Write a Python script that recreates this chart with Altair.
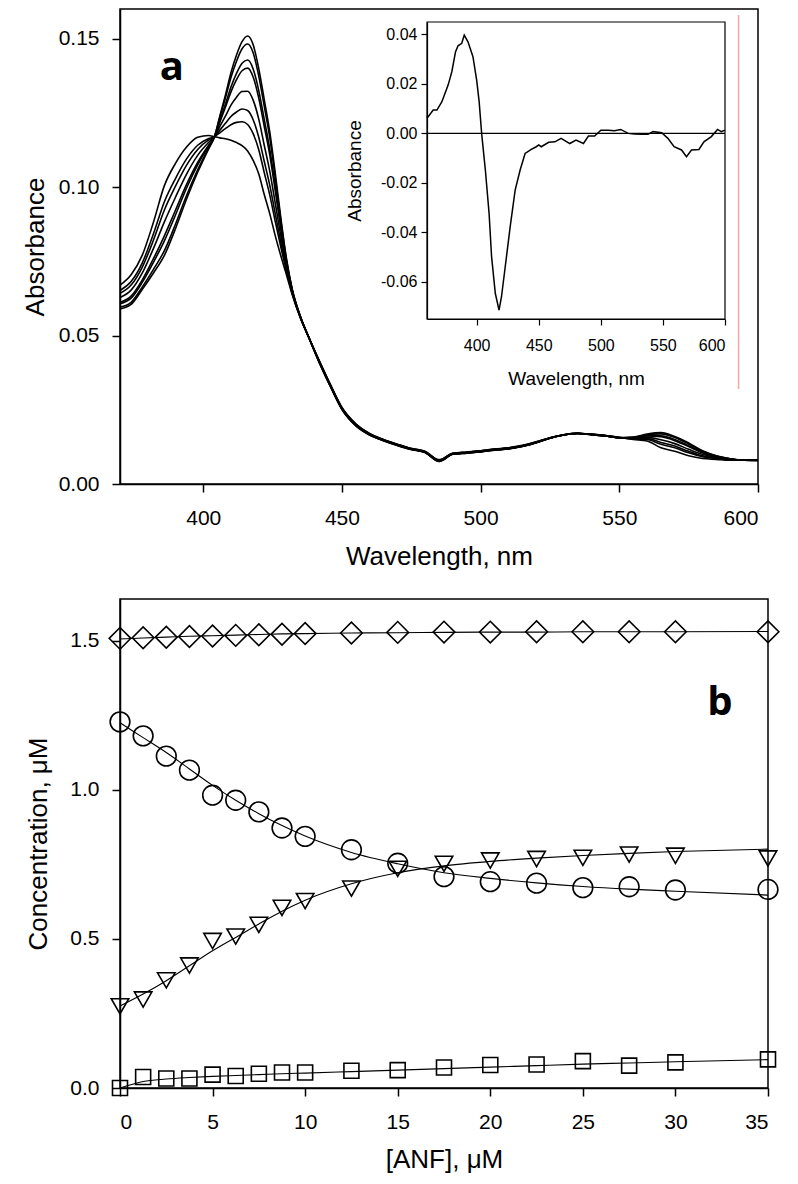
import altair as alt
import pandas as pd

# ---------------- Panel a : absorbance spectra ----------------
WAVELENGTH = [370, 374, 378, 382, 386, 390, 394, 398, 402, 404, 406, 408, 410, 412, 414,
              416, 418, 420, 422, 424, 426, 428, 430, 432, 435, 438, 442, 446, 450, 455,
              460, 465, 470, 475, 480, 485, 490, 495, 500, 505, 510, 515, 520, 525, 530,
              535, 540, 545, 550, 555, 560, 565, 570, 575, 580, 585, 590, 595, 600]

SPEC_0 = [0.0670, 0.0705, 0.0770, 0.0880, 0.1005, 0.1080, 0.1135, 0.1168, 0.1174, 0.1170, 0.1166, 0.1163, 0.1158, 0.1150, 0.1140,
          0.1122, 0.1090, 0.1045, 0.0975, 0.0910, 0.0835, 0.0768, 0.0705, 0.0640, 0.0560, 0.0495,
          0.0412, 0.0332, 0.0258, 0.0203, 0.0170, 0.0150, 0.0134, 0.0120, 0.0110, 0.0082, 0.0104, 0.0108, 0.0112, 0.0118,
          0.0122, 0.0130, 0.0142, 0.0156, 0.0166, 0.0171, 0.0168, 0.0163, 0.0157,
          0.0150, 0.0145, 0.0122, 0.0110, 0.0095, 0.0086, 0.0083, 0.0080, 0.0080, 0.0079]
SPEC_1 = [0.0652, 0.0682, 0.0744, 0.0841, 0.0951, 0.1029, 0.1095, 0.1141, 0.1164, 0.1170, 0.1183, 0.1197, 0.1210, 0.1218, 0.1220,
          0.1211, 0.1180, 0.1127, 0.1049, 0.0973, 0.0883, 0.0797, 0.0718, 0.0645, 0.0561, 0.0495,
          0.0411, 0.0331, 0.0257, 0.0202, 0.0169, 0.0149, 0.0133, 0.0119, 0.0109, 0.0081, 0.0103, 0.0107, 0.0111, 0.0117,
          0.0121, 0.0129, 0.0141, 0.0156, 0.0166, 0.0171, 0.0167, 0.0163, 0.0157,
          0.0152, 0.0150, 0.0134, 0.0122, 0.0105, 0.0092, 0.0086, 0.0081, 0.0080, 0.0079]
SPEC_2 = [0.0642, 0.0670, 0.0730, 0.0820, 0.0923, 0.1003, 0.1074, 0.1127, 0.1159, 0.1169, 0.1192, 0.1215, 0.1238, 0.1253, 0.1263,
          0.1258, 0.1227, 0.1169, 0.1087, 0.1006, 0.0909, 0.0813, 0.0724, 0.0647, 0.0562, 0.0495,
          0.0410, 0.0330, 0.0256, 0.0201, 0.0168, 0.0149, 0.0133, 0.0119, 0.0109, 0.0080, 0.0103, 0.0107, 0.0111, 0.0117,
          0.0121, 0.0129, 0.0141, 0.0155, 0.0166, 0.0171, 0.0167, 0.0163, 0.0156,
          0.0153, 0.0153, 0.0140, 0.0128, 0.0110, 0.0095, 0.0087, 0.0082, 0.0080, 0.0079]
SPEC_3 = [0.0628, 0.0653, 0.0710, 0.0792, 0.0883, 0.0966, 0.1044, 0.1107, 0.1151, 0.1169, 0.1205, 0.1239, 0.1276, 0.1303, 0.1322,
          0.1323, 0.1293, 0.1230, 0.1141, 0.1053, 0.0944, 0.0834, 0.0734, 0.0650, 0.0563, 0.0495,
          0.0409, 0.0329, 0.0255, 0.0200, 0.0168, 0.0148, 0.0132, 0.0118, 0.0108, 0.0079, 0.0102, 0.0106, 0.0110, 0.0116,
          0.0120, 0.0128, 0.0140, 0.0155, 0.0165, 0.0170, 0.0167, 0.0162, 0.0156,
          0.0154, 0.0157, 0.0149, 0.0136, 0.0117, 0.0100, 0.0089, 0.0083, 0.0080, 0.0080]
SPEC_4 = [0.0612, 0.0633, 0.0687, 0.0758, 0.0836, 0.0922, 0.1009, 0.1083, 0.1142, 0.1168, 0.1219, 0.1269, 0.1321, 0.1362, 0.1392,
          0.1401, 0.1371, 0.1301, 0.1205, 0.1108, 0.0986, 0.0859, 0.0745, 0.0654, 0.0564, 0.0495,
          0.0408, 0.0328, 0.0254, 0.0199, 0.0167, 0.0147, 0.0131, 0.0117, 0.0107, 0.0078, 0.0101, 0.0105, 0.0109, 0.0115,
          0.0119, 0.0127, 0.0140, 0.0155, 0.0165, 0.0170, 0.0167, 0.0162, 0.0156,
          0.0156, 0.0162, 0.0159, 0.0146, 0.0126, 0.0105, 0.0092, 0.0084, 0.0080, 0.0080]
SPEC_5 = [0.0607, 0.0626, 0.0679, 0.0746, 0.0819, 0.0906, 0.0997, 0.1075, 0.1139, 0.1168, 0.1225, 0.1279, 0.1337, 0.1383, 0.1417,
          0.1428, 0.1398, 0.1326, 0.1228, 0.1127, 0.1001, 0.0868, 0.0749, 0.0656, 0.0564, 0.0495,
          0.0407, 0.0327, 0.0253, 0.0198, 0.0166, 0.0147, 0.0131, 0.0117, 0.0107, 0.0077, 0.0101, 0.0105, 0.0109, 0.0115,
          0.0119, 0.0127, 0.0139, 0.0154, 0.0165, 0.0170, 0.0166, 0.0162, 0.0156,
          0.0156, 0.0163, 0.0162, 0.0150, 0.0129, 0.0107, 0.0092, 0.0084, 0.0080, 0.0080]
SPEC_6 = [0.0596, 0.0612, 0.0663, 0.0722, 0.0786, 0.0875, 0.0972, 0.1058, 0.1133, 0.1168, 0.1235, 0.1300, 0.1369, 0.1424, 0.1466,
          0.1482, 0.1453, 0.1375, 0.1273, 0.1166, 0.1030, 0.0886, 0.0756, 0.0659, 0.0565, 0.0495,
          0.0406, 0.0326, 0.0252, 0.0197, 0.0165, 0.0146, 0.0130, 0.0116, 0.0106, 0.0076, 0.0100, 0.0104, 0.0108, 0.0114,
          0.0118, 0.0126, 0.0139, 0.0154, 0.0165, 0.0170, 0.0166, 0.0162, 0.0156,
          0.0157, 0.0166, 0.0169, 0.0157, 0.0135, 0.0110, 0.0094, 0.0085, 0.0080, 0.0080]
SPEC_7 = [0.0590, 0.0605, 0.0655, 0.0710, 0.0770, 0.0860, 0.0960, 0.1050, 0.1130, 0.1168, 0.1240, 0.1310, 0.1385, 0.1445, 0.1490,
          0.1509, 0.1480, 0.1400, 0.1295, 0.1185, 0.1045, 0.0895, 0.0760, 0.0660, 0.0565, 0.0495,
          0.0405, 0.0325, 0.0251, 0.0196, 0.0165, 0.0146, 0.0130, 0.0116, 0.0106, 0.0076, 0.0100, 0.0104, 0.0108, 0.0114,
          0.0118, 0.0126, 0.0139, 0.0154, 0.0165, 0.0170, 0.0166, 0.0162, 0.0156,
          0.0158, 0.0168, 0.0173, 0.0160, 0.0138, 0.0112, 0.0095, 0.0085, 0.0080, 0.0080]
SPECTRA = [SPEC_0, SPEC_1, SPEC_2, SPEC_3, SPEC_4, SPEC_5, SPEC_6, SPEC_7]

MAIN_X_DOMAIN = [370, 600]
MAIN_Y_DOMAIN = [0, 0.16]
MAIN_X_TICKS = [400, 450, 500, 550, 600]
MAIN_Y_TICKS = [0.0, 0.05, 0.10, 0.15]

# inset: difference spectrum
INSET_WL = [360, 365, 368, 372, 377, 380, 383, 385, 388, 390, 393, 397, 400, 402, 404, 407, 410, 412, 415, 418,
            420, 423, 427, 431, 435, 439, 444, 448, 450, 452, 458, 463, 468, 475, 480, 486, 490, 495, 500, 506,
            511, 516, 522, 527, 533, 538, 542, 549, 554, 559, 565, 569, 573, 579, 583, 589, 594, 597, 600]
INSET_VAL = [0.0061, 0.0094, 0.0094, 0.0128, 0.0195, 0.0249, 0.0330, 0.0354, 0.0364, 0.0397,
             0.0370, 0.0310, 0.0215, 0.0128, 0.0000, -0.0148, -0.0323, -0.0497, -0.0646, -0.0714,
             -0.0660, -0.0539, -0.0377, -0.0229, -0.0148, -0.0081, -0.0065, -0.0054, -0.0047, -0.0054,
             -0.0036, -0.0034, -0.0020, -0.0041, -0.0027, -0.0041, -0.0011, -0.0011, 0.0013, 0.0013,
             0.0011, 0.0016, 0.0000, -0.0003, -0.0004, -0.0004, 0.0007, 0.0003, -0.0020, -0.0054,
             -0.0067, -0.0094, -0.0067, -0.0065, -0.0034, -0.0013, 0.0016, 0.0007, 0.0013]
INSET_X_DOMAIN = [360, 600]
INSET_Y_DOMAIN = [-0.075, 0.045]
INSET_X_TICKS = [400, 450, 500, 550, 600]
INSET_Y_TICKS = [-0.06, -0.04, -0.02, 0.0, 0.02, 0.04]

# annotations for panel a
LABEL_A = {"wl": [388.7], "abs": [0.140], "text": ["a"]}
RED_LINE = {"wl": [593.0], "abs": [0.032], "abs2": [0.158]}

# ---------------- Panel b : concentrations ----------------
ANF = [0, 1.25, 2.5, 3.75, 5, 6.25, 7.5, 8.75, 10, 12.5, 15, 17.5, 20, 22.5, 25, 27.5, 30, 35]
DIAMOND = [1.508, 1.510, 1.512, 1.514, 1.516, 1.518, 1.520, 1.522, 1.524, 1.526, 1.528, 1.529, 1.529, 1.530, 1.530, 1.530, 1.530, 1.530]
CIRCLE = [1.228, 1.181, 1.113, 1.066, 0.982, 0.965, 0.926, 0.872, 0.844, 0.799, 0.754, 0.709, 0.692, 0.687, 0.672, 0.675, 0.664, 0.666]
TRIANGLE = [0.274, 0.297, 0.361, 0.411, 0.493, 0.508, 0.547, 0.604, 0.627, 0.669, 0.735, 0.752, 0.763, 0.768, 0.772, 0.783, 0.779, 0.770]
SQUARE = [0.000, 0.037, 0.032, 0.032, 0.045, 0.040, 0.048, 0.052, 0.052, 0.058, 0.060, 0.069, 0.077, 0.079, 0.090, 0.075, 0.086, 0.096]

FIT_DIAMOND = [1.506, 1.509, 1.512, 1.515, 1.517, 1.519, 1.521, 1.523, 1.524, 1.526, 1.527, 1.528, 1.529, 1.529, 1.530, 1.530, 1.530, 1.531]
FIT_CIRCLE = [1.225, 1.175, 1.125, 1.070, 1.015, 0.965, 0.920, 0.880, 0.845, 0.790, 0.752, 0.722, 0.703, 0.688, 0.676, 0.667, 0.660, 0.647]
FIT_TRIANGLE = [0.275, 0.315, 0.360, 0.410, 0.460, 0.505, 0.550, 0.593, 0.630, 0.685, 0.722, 0.745, 0.760, 0.771, 0.780, 0.787, 0.793, 0.801]
FIT_SQUARE = [0.000, 0.022, 0.030, 0.035, 0.039, 0.042, 0.045, 0.048, 0.050, 0.055, 0.060, 0.065, 0.070, 0.075, 0.080, 0.084, 0.088, 0.095]

SERIES = ["diamond", "circle", "triangle", "square"]
SHAPES = ["diamond", "circle", "triangle-down", "square"]
SIZES = [470, 225, 400, 215]

B_X_DOMAIN = [0, 35]
B_Y_DOMAIN = [0, 1.64]
B_X_TICKS = [0, 5, 10, 15, 20, 25, 30, 35]
B_Y_TICKS = [0.0, 0.5, 1.0, 1.5]
LABEL_B = {"anf": [32.4], "val": [1.29], "text": ["b"]}

# ---------------- fonts ----------------
FONT = "'Liberation Sans', Arial, sans-serif"
BOLD = "'Open Sans', 'DejaVu Sans', sans-serif"

# ---------------- build panel a ----------------
spec_df = pd.DataFrame([
    {"wl": w, "abs": v, "curve": i}
    for i, s in enumerate(SPECTRA) for w, v in zip(WAVELENGTH, s)
])

main_x = alt.X("wl:Q", scale=alt.Scale(domain=MAIN_X_DOMAIN, nice=False, zero=False),
               axis=alt.Axis(values=MAIN_X_TICKS, title="Wavelength, nm", tickSize=8,
                             labelPadding=15, titlePadding=15, labelFontSize=21, titleFontSize=26))
main_y = alt.Y("abs:Q", scale=alt.Scale(domain=MAIN_Y_DOMAIN, nice=False),
               axis=alt.Axis(values=MAIN_Y_TICKS, format=".2f", title="Absorbance", tickSize=8,
                             labelPadding=13, titlePadding=10, labelFontSize=21, titleFontSize=26))

spectra = alt.Chart(spec_df).mark_line(color="black", strokeWidth=1.6, interpolate="monotone").encode(
    x=main_x, y=main_y, detail="curve:N")

red = alt.Chart(pd.DataFrame(RED_LINE)).mark_rule(color="#f3a9a2", strokeWidth=1.5).encode(
    x="wl:Q", y="abs:Q", y2="abs2:Q")

a_text = alt.Chart(pd.DataFrame(LABEL_A)).mark_text(
    font=BOLD, fontSize=40, fontWeight="bold", color="black", align="center", baseline="middle"
).encode(x="wl:Q", y="abs:Q", text="text:N")

main_layer = alt.layer(spectra, red, a_text)

inset_df = pd.DataFrame({"iwl": INSET_WL, "ival": INSET_VAL})
ix = alt.X("iwl:Q", scale=alt.Scale(domain=INSET_X_DOMAIN, range=[307, 605], nice=False, zero=False),
           axis=alt.Axis(orient="bottom", offset=-165, values=INSET_X_TICKS, title="Wavelength, nm",
                         tickSize=6, labelPadding=12, titlePadding=16, labelFontSize=16, titleFontSize=19,
                         domainWidth=1.2, tickWidth=1.2))
iy = alt.Y("ival:Q", scale=alt.Scale(domain=INSET_Y_DOMAIN, range=[310, 13], nice=False, zero=False),
           axis=alt.Axis(orient="left", offset=-307, values=INSET_Y_TICKS, format=".2f",
                         labelExpr="replace(datum.label, '\u2212', '-')", title="Absorbance",
                         tickSize=6, labelPadding=4, titlePadding=16, labelFontSize=16, titleFontSize=19,
                         domainWidth=1.2, tickWidth=1.2))

inset_line = alt.Chart(inset_df).mark_line(color="black", strokeWidth=1.5).encode(x=ix, y=iy)

frame_df = pd.DataFrame({"iwl": [INSET_X_DOMAIN[0]], "iwl2": [INSET_X_DOMAIN[1]],
                         "ival": [INSET_Y_DOMAIN[0]], "ival2": [INSET_Y_DOMAIN[1]]})
inset_frame = alt.Chart(frame_df).mark_rect(fillOpacity=0, stroke="black", strokeWidth=1.2).encode(
    x="iwl:Q", x2="iwl2:Q", y="ival:Q", y2="ival2:Q")

zero_df = pd.DataFrame({"iwl": [INSET_X_DOMAIN[0]], "iwl2": [INSET_X_DOMAIN[1]], "ival": [0.0]})
inset_zero = alt.Chart(zero_df).mark_rule(color="black", strokeWidth=1.2).encode(
    x="iwl:Q", x2="iwl2:Q", y="ival:Q")

inset_layer = alt.layer(inset_line, inset_frame, inset_zero)

panel_a = alt.layer(main_layer, inset_layer).resolve_scale(
    x="independent", y="independent").properties(width=638, height=475)

# ---------------- build panel b ----------------
rows_p, rows_f = [], []
for name, vals, fits in zip(SERIES, [DIAMOND, CIRCLE, TRIANGLE, SQUARE],
                            [FIT_DIAMOND, FIT_CIRCLE, FIT_TRIANGLE, FIT_SQUARE]):
    for a, v, f in zip(ANF, vals, fits):
        rows_p.append({"anf": a, "val": v, "series": name})
        rows_f.append({"anf": a, "val": f, "series": name})
pts_df = pd.DataFrame(rows_p)
fit_df = pd.DataFrame(rows_f)

bx = alt.X("anf:Q", scale=alt.Scale(domain=B_X_DOMAIN, nice=False, zero=False),
           axis=alt.Axis(values=B_X_TICKS, title="[ANF], μM", tickSize=8, labelPadding=15,
                         titlePadding=14, labelFontSize=21, titleFontSize=26))
by = alt.Y("val:Q", scale=alt.Scale(domain=B_Y_DOMAIN, nice=False),
           axis=alt.Axis(values=B_Y_TICKS, format=".1f", title="Concentration, μM", tickSize=8,
                         labelPadding=13, titlePadding=18, labelFontSize=21, titleFontSize=26))

fit_lines = alt.Chart(fit_df).mark_line(color="black", strokeWidth=1.1, interpolate="monotone").encode(
    x=bx, y=by, detail="series:N")

points = alt.Chart(pts_df).mark_point(filled=False, color="black", strokeWidth=1.6, opacity=1).encode(
    x="anf:Q", y="val:Q",
    shape=alt.Shape("series:N", scale=alt.Scale(domain=SERIES, range=SHAPES), legend=None),
    size=alt.Size("series:O", scale=alt.Scale(domain=SERIES, range=SIZES), legend=None))

b_text = alt.Chart(pd.DataFrame(LABEL_B)).mark_text(
    font=BOLD, fontSize=40, fontWeight="bold", color="black", align="center", baseline="middle"
).encode(x="anf:Q", y="val:Q", text="text:N")

panel_b = alt.layer(fit_lines, points, b_text).properties(width=648, height=489)

chart = alt.vconcat(panel_a, panel_b, spacing=28).properties(
    padding={"left": 13, "top": 0, "right": 4, "bottom": 0}
).configure_view(stroke="black", strokeWidth=1.5).configure_axis(
    grid=False, domainColor="black", domainWidth=1.5, tickColor="black", tickWidth=1.5,
    labelColor="black", titleColor="black", titleFontWeight="normal",
    labelFont=FONT, titleFont=FONT)

chart.save("out.html", embed_options={"renderer": "svg", "actions": False})
